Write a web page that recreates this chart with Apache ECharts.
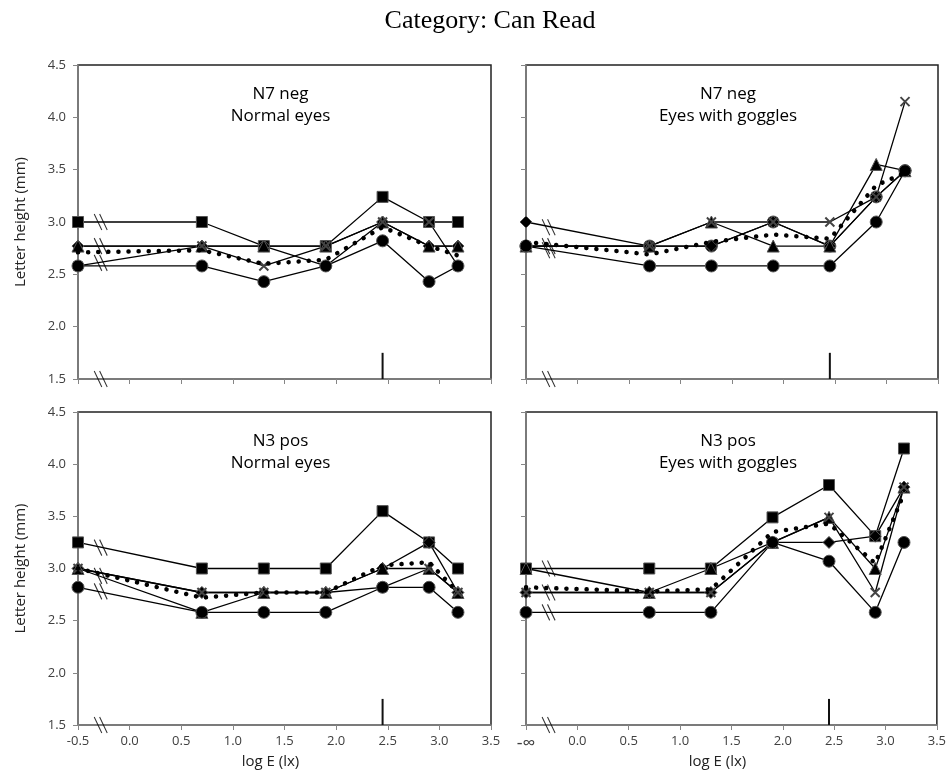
<!DOCTYPE html>
<html><head><meta charset="utf-8">
<script src="https://cdn.jsdelivr.net/npm/echarts@6/dist/echarts.min.js"></script>
<style>html,body{margin:0;padding:0;background:#fff}#c{width:949px;height:771px}</style>
</head><body><div id="c"></div>
<script>
// ---------- data ----------
const chartTitle = 'Category: Can Read';
const xLogE = [-0.5, 0.7, 1.3, 1.9, 2.45, 2.9, 3.18];   // -0.5 stands for log(0) = -infinity
const xAxisMin = -0.5, xAxisMax = 3.5, xAxisStep = 0.5;
const yAxisMin = 1.5, yAxisMax = 4.5, yAxisStep = 0.5;
const minusInfinityLabel = '-\u221E';
const xAxisName = 'log E (lx)';
const yAxisName = 'Letter height (mm)';

// N7 neg, Normal eyes
const n7NormalA = [3.0, 3.0, 2.77, 2.77, 3.24, 3.0, 3.0];
const n7NormalB = [2.77, 2.77, 2.77, 2.58, 3.0, 2.77, 2.77];
const n7NormalC = [2.77, 2.77, 2.77, 2.77, 3.0, 2.77, 2.77];
const n7NormalD = [2.58, 2.77, 2.58, 2.77, 3.0, 3.0, 2.58];
const n7NormalE = [2.58, 2.58, 2.43, 2.58, 2.82, 2.43, 2.58];
const n7NormalMean = [2.71, 2.73, 2.6, 2.64, 2.95, 2.77, 2.68];
const n7NormalBreaks = [3.0, 2.77, 2.61, 1.5];

// N7 neg, Eyes with goggles
const n7GoggleA = [2.77, 2.77, 2.77, 3.0, 2.77, 3.24, 3.49];
const n7GoggleB = [3.0, 2.77, 2.77, 3.0, 2.77, 3.24, 3.49];
const n7GoggleC = [2.77, 2.77, 3.0, 2.77, 2.77, 3.55, 3.49];
const n7GoggleD = [2.77, 2.77, 3.0, 3.0, 3.0, 3.24, 4.15];
const n7GoggleE = [2.77, 2.58, 2.58, 2.58, 2.58, 3.0, 3.49];
const n7GoggleMean = [2.81, 2.69, 2.81, 2.88, 2.84, 3.35, 3.47];
const n7GoggleBreaks = [2.95, 2.77, 2.73, 1.5];

// N3 pos, Normal eyes
const n3NormalA = [3.25, 3.0, 3.0, 3.0, 3.55, 3.25, 3.0];
const n3NormalB = [3.0, 2.77, 2.77, 2.77, 3.0, 3.25, 2.77];
const n3NormalC = [3.0, 2.58, 2.77, 2.77, 3.0, 3.0, 2.77];
const n3NormalD = [3.0, 2.77, 2.77, 2.77, 2.82, 3.0, 2.77];
const n3NormalE = [2.82, 2.58, 2.58, 2.58, 2.82, 2.82, 2.58];
const n3NormalMean = [3.0, 2.72, 2.77, 2.77, 3.03, 3.06, 2.77];
const n3NormalBreaks = [3.2, 2.93, 2.78, 1.5];

// N3 pos, Eyes with goggles
const n3GoggleA = [3.0, 3.0, 3.0, 3.49, 3.8, 3.31, 4.15];
const n3GoggleB = [3.0, 2.77, 3.0, 3.25, 3.49, 3.0, 3.78];
const n3GoggleC = [2.77, 2.77, 2.77, 3.25, 3.25, 3.31, 3.78];
const n3GoggleD = [2.77, 2.77, 2.77, 3.25, 3.49, 2.77, 3.78];
const n3GoggleE = [2.58, 2.58, 2.58, 3.25, 3.07, 2.58, 3.25];
const n3GoggleMean = [2.82, 2.78, 2.8, 3.35, 3.43, 3.05, 3.72];
const n3GoggleBreaks = [3.0, 2.77, 2.58, 1.5];

const breakX = -0.28;
const refMarkX = 2.45;
const refMarkY = [1.5, 1.75];

// ---------- styling / layout ----------
const CROSS = 'path://M0,0 L10,10 M10,0 L0,10';
const BREAK = 'path://M0,0 L7,10 M5,0 L12,10';
const FONT = '"Open Sans", "Liberation Sans", sans-serif';
const AXIS_GRAY = '#868686';

const grids = [
  {left: 78, top: 65, width: 413, height: 314},
  {left: 526, top: 65, width: 412, height: 314},
  {left: 78, top: 412, width: 413, height: 313},
  {left: 526, top: 412, width: 412, height: 313}
];

const panels = [
  {label: 'N7 neg\nNormal eyes', lines: [n7NormalA, n7NormalB, n7NormalC, n7NormalD, n7NormalE], mean: n7NormalMean, breaks: n7NormalBreaks,
   symbols: ['rect', 'diamond', 'triangle', CROSS, 'circle'], xLabels: false, yLabels: true, infLabel: false},
  {label: 'N7 neg\nEyes with goggles', lines: [n7GoggleA, n7GoggleB, n7GoggleC, n7GoggleD, n7GoggleE], mean: n7GoggleMean, breaks: n7GoggleBreaks,
   symbols: ['circle', 'diamond', 'triangle', CROSS, 'circle'], xLabels: false, yLabels: false, infLabel: true},
  {label: 'N3 pos\nNormal eyes', lines: [n3NormalA, n3NormalB, n3NormalC, n3NormalD, n3NormalE], mean: n3NormalMean, breaks: n3NormalBreaks,
   symbols: ['rect', 'diamond', 'triangle', CROSS, 'circle'], xLabels: true, yLabels: true, infLabel: false},
  {label: 'N3 pos\nEyes with goggles', lines: [n3GoggleA, n3GoggleB, n3GoggleC, n3GoggleD, n3GoggleE], mean: n3GoggleMean, breaks: n3GoggleBreaks,
   symbols: ['rect', 'triangle', 'diamond', CROSS, 'circle'], xLabels: true, yLabels: false, infLabel: true}
];

const gridOpts = [], xAxes = [], yAxes = [], series = [], graphics = [];

panels.forEach((p, i) => {
  const g = grids[i];
  gridOpts.push(Object.assign({show: true, borderColor: '#222', borderWidth: 1.5, backgroundColor: '#fff', containLabel: false}, g));
  xAxes.push({
    type: 'value', gridIndex: i, min: xAxisMin, max: xAxisMax, interval: xAxisStep,
    axisLine: {show: true, onZero: false, lineStyle: {color: AXIS_GRAY, width: 1.5}},
    axisTick: {show: true, length: 5, lineStyle: {color: AXIS_GRAY, width: 1}},
    splitLine: {show: false},
    axisLabel: {show: p.xLabels, margin: 10, fontFamily: FONT, fontSize: 13, color: '#404040',
      formatter: v => (p.infLabel && Math.abs(v - xAxisMin) < 1e-9) ? '{inf|' + minusInfinityLabel + '}' : v.toFixed(1),
      rich: {inf: {fontFamily: FONT, fontSize: 18, color: '#404040'}}},
    name: p.xLabels ? xAxisName : '', nameLocation: 'middle', nameGap: 29,
    nameTextStyle: {fontFamily: FONT, fontSize: 15, color: '#222', padding: [0, 28, 0, 0]}
  });
  yAxes.push({
    type: 'value', gridIndex: i, min: yAxisMin, max: yAxisMax, interval: yAxisStep,
    axisLine: {show: true, onZero: false, lineStyle: {color: AXIS_GRAY, width: 1.5}},
    axisTick: {show: true, length: 5, lineStyle: {color: AXIS_GRAY, width: 1}},
    splitLine: {show: false},
    axisLabel: {show: p.yLabels, margin: 12, fontFamily: FONT, fontSize: 13, color: '#404040', formatter: v => v.toFixed(1)},
    name: p.yLabels ? yAxisName : '', nameLocation: 'middle', nameGap: 50, nameRotate: 90,
    nameTextStyle: {fontFamily: FONT, fontSize: 15, color: '#222'}
  });

  p.lines.forEach((arr, j) => {
    const sym = p.symbols[j];
    const isCross = sym === CROSS;
    series.push({
      type: 'line', xAxisIndex: i, yAxisIndex: i, clip: false, z: 3,
      data: xLogE.map((x, k) => [x, arr[k]]),
      symbol: sym, showSymbol: true,
      symbolSize: isCross ? 9 : (sym === 'rect' ? 11 : 12),
      lineStyle: {color: '#000', width: 1.3},
      itemStyle: isCross ? {color: '#999', borderColor: '#444', borderWidth: 2}
                         : {color: '#000', borderColor: '#555', borderWidth: 1}
    });
  });

  series.push({
    type: 'line', xAxisIndex: i, yAxisIndex: i, clip: false, z: 4,
    data: xLogE.map((x, k) => [x, p.mean[k]]),
    symbol: 'none',
    lineStyle: {color: '#000', width: 4.5, type: [0.1, 10], cap: 'round'}
  });

  series.push({
    type: 'scatter', xAxisIndex: i, yAxisIndex: i, clip: false, z: 5,
    data: p.breaks.map(y => [breakX, y]),
    symbol: BREAK, symbolSize: [13, 16],
    itemStyle: {color: 'transparent', borderColor: '#000', borderWidth: 1.2}
  });

  series.push({
    type: 'line', xAxisIndex: i, yAxisIndex: i, clip: false, z: 5,
    data: refMarkY.map(y => [refMarkX, y]),
    symbol: 'none',
    lineStyle: {color: '#111', width: 2}
  });

  graphics.push({
    type: 'text', x: g.left + g.width / 2 - 4, y: g.top + 18, z: 10,
    style: {text: p.label, align: 'center', verticalAlign: 'top', fontFamily: FONT, fontSize: 17, lineHeight: 22, fill: '#000'}
  });
});

graphics.push({
  type: 'text', x: 490, y: 8, z: 10,
  style: {text: chartTitle, align: 'center', verticalAlign: 'top', fontFamily: '"Liberation Serif", "Times New Roman", serif', fontSize: 26, fill: '#000'}
});

const chart = echarts.init(document.getElementById('c'), null, {renderer: 'canvas', width: 949, height: 771});
chart.setOption({
  animation: false,
  backgroundColor: '#fff',
  grid: gridOpts,
  xAxis: xAxes,
  yAxis: yAxes,
  series: series,
  graphic: graphics
});
</script>
</body></html>
